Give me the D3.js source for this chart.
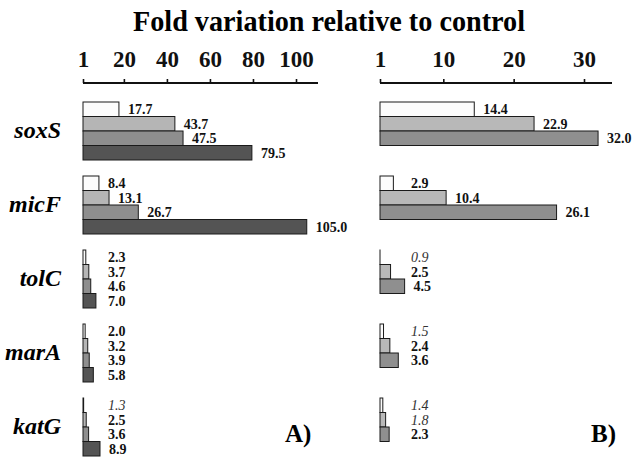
<!DOCTYPE html>
<html><head><meta charset="utf-8">
<script src="https://cdn.jsdelivr.net/npm/d3@7/dist/d3.min.js"></script>
<style>
body{margin:0;background:#fff;}
svg{display:block;}
text{font-family:"Liberation Serif","Times New Roman",serif;}
</style></head>
<body>
<script>
// ---- data ----
const title = "Fold variation relative to control";
const genes = ["soxS", "micF", "tolC", "marA", "katG"];
const panelLabels = ["A)", "B)"];
const ticksA = [1, 20, 40, 60, 80, 100];
const ticksB = [1, 10, 20, 30];
// Panel A: four series (white, light, medium, dark)
const seriesA = [
  [17.7, 8.4, 2.3, 2.0, 1.3],
  [43.7, 13.1, 3.7, 3.2, 2.5],
  [47.5, 26.7, 4.6, 3.9, 3.6],
  [79.5, 105.0, 7.0, 5.8, 8.9]
];
// Panel B: three series (white, light, medium)
const seriesB = [
  [14.4, 2.9, 0.9, 1.5, 1.4],
  [22.9, 10.4, 2.5, 2.4, 1.8],
  [32.0, 26.1, 4.5, 3.6, 2.3]
];
const colorsA = ["#fcfcfc", "#b5b5b5", "#8e8e8e", "#545454"];
const colorsB = ["#fcfcfc", "#b8b8b8", "#8f8f8f"];

const W = 643, H = 458;
const svg = d3.select("body").append("svg").attr("width", W).attr("height", H);

svg.append("text").attr("x", 329).attr("y", 31).attr("text-anchor", "middle")
  .attr("font-size", 30).attr("font-weight", "bold")
  .attr("textLength", 392).attr("lengthAdjust", "spacingAndGlyphs").text(title);

const yGene = d3.scaleBand().domain(genes).range([102, 456]).paddingInner(16/74).paddingOuter(0);
const ySeries = d3.scaleBand().domain([0,1,2,3]).range([0, yGene.bandwidth()]);

// gene labels
svg.selectAll("text.gene").data(genes).join("text").attr("class", "gene")
  .attr("x", 61).attr("y", d => yGene(d) + yGene.bandwidth()/2 + 7)
  .attr("text-anchor", "end").attr("font-size", 24).attr("font-weight", "bold")
  .attr("font-style", "italic").text(d => d);

function panel(x, ticks, series, colors, minLabelOff, label, labelX) {
  const g = svg.append("g");
  const axisY = 83;
  const ax = g.append("g").attr("transform", `translate(0,${axisY})`)
    .call(d3.axisTop(x).tickValues(ticks).tickSize(4).tickSizeOuter(0).tickPadding(12));
  ax.select(".domain").attr("stroke", "#111").attr("stroke-width", 2)
    .attr("d", `M${x.range()[0]},0H${x.range()[1]}`);
  ax.selectAll(".tick line").attr("stroke", "#111").attr("stroke-width", 1.6);
  ax.selectAll(".tick text").attr("font-family", '"Liberation Serif",serif')
    .attr("font-size", 23).attr("font-weight", "bold").attr("fill", "#111");
  const x0 = x(1);
  series.forEach((vals, si) => {
    vals.forEach((v, gi) => {
      const y = yGene(genes[gi]) + ySeries(si);
      const w = Math.max(0.01, x(v) - x0);
      g.append("rect").attr("x", x0).attr("y", y).attr("width", w)
        .attr("height", ySeries.bandwidth()).attr("fill", colors[si])
        .attr("stroke", "#1a1a1a").attr("stroke-width", 1);
      const italic = v < 2;
      g.append("text").attr("x", Math.max(x(v) + 9, x0 + minLabelOff))
        .attr("y", y + ySeries.bandwidth()/2 + 5)
        .attr("font-size", 14)
        .attr("font-weight", italic ? "normal" : "bold")
        .attr("font-style", italic ? "italic" : "normal")
        .attr("fill", italic ? "#333" : "#111")
        .text(v.toFixed(1));
    });
  });
  svg.append("text").attr("x", labelX).attr("y", 442).attr("font-size", 25)
    .attr("font-weight", "bold").text(label);
}

const xA = d3.scaleLinear().domain([1, 100]).range([83, 296]);
const xAaxis = xA.copy().domain([1, xA.invert(318)]).range([83, 318]);
panel(xAaxis, ticksA, seriesA, colorsA, 25, panelLabels[0], 285);
const xB = d3.scaleLinear().domain([1, 30]).range([380, 584]);
const xBaxis = xB.copy().domain([1, xB.invert(612)]).range([380, 612]);
panel(xBaxis, ticksB, seriesB, colorsB, 31, panelLabels[1], 591);
</script>
</body></html>
